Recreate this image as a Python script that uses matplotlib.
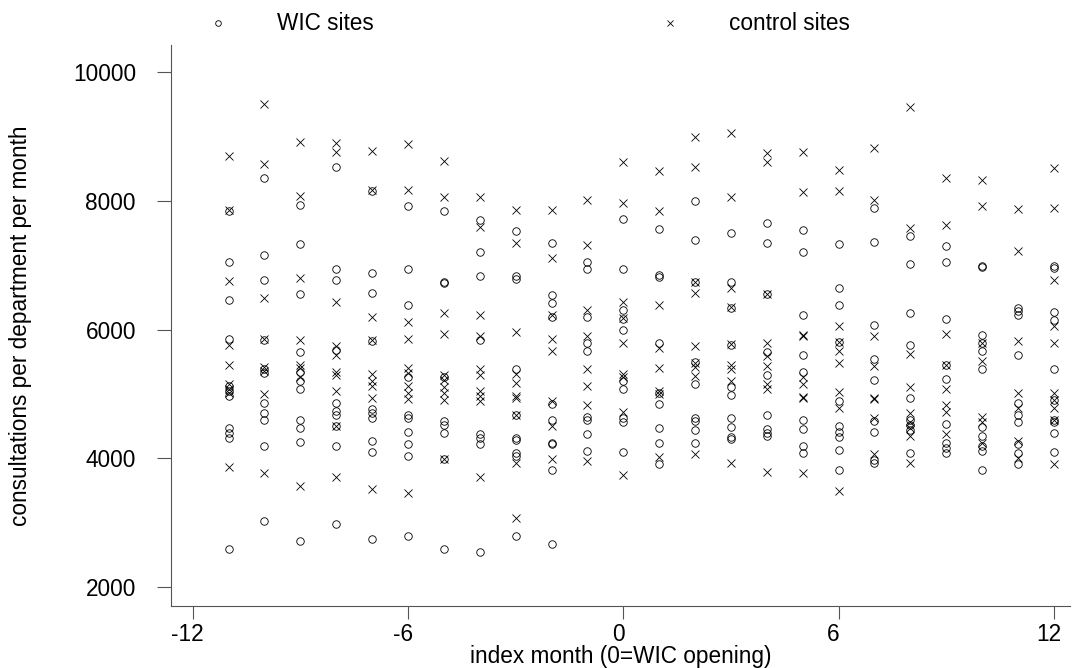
# -*- coding: utf-8 -*-

import matplotlib
matplotlib.use("Agg")
import matplotlib.pyplot as plt
import matplotlib.transforms as mtransforms

# index months (0 = WIC opening)
months = list(range(-11, 13))

# consultations per department per month, WIC sites (circles), one list per month
wic_vals = [
    [7840, 7054, 6465, 5850, 5120, 5040, 4970, 4470, 4390, 4310, 2583],
    [8355, 7161, 6770, 5840, 5390, 5330, 4859, 4698, 4591, 4190, 3028],
    [7927, 7322, 6545, 5651, 5340, 5200, 5070, 4602, 4468, 4254, 2717],
    [8526, 6947, 6770, 5680, 4859, 4736, 4671, 4495, 4190, 2985],
    [8150, 6877, 6572, 5820, 4768, 4698, 4618, 4270, 4099, 2744],
    [7911, 6947, 6385, 5260, 4671, 4618, 4414, 4216, 4029, 2787],
    [7841, 6733, 6720, 5260, 4580, 4520, 4400, 3986, 2594],
    [7696, 7198, 6824, 5839, 4377, 4308, 4227, 2540],
    [7525, 6824, 6792, 5394, 4671, 4308, 4280, 4083, 4029, 2798],
    [7338, 6529, 6411, 6200, 4850, 4602, 4243, 4220, 3825, 2674],
    [7054, 6947, 6197, 5796, 5662, 4645, 4591, 4377, 4109],
    [7723, 6947, 6305, 6160, 5994, 5207, 5073, 4618, 4564, 4093],
    [7563, 6840, 6813, 5785, 5010, 4843, 4468, 4232, 3911],
    [8002, 7386, 6733, 5501, 5153, 4629, 4575, 4441, 4232],
    [7498, 6743, 6330, 5760, 5110, 4976, 4629, 4484, 4324, 4297],
    [7654, 7338, 6545, 5646, 5287, 4671, 4457, 4393, 4350],
    [7552, 7198, 6224, 5598, 5341, 4602, 4457, 4190, 4083],
    [7332, 6652, 6374, 5806, 4886, 4495, 4414, 4334, 4136, 3825],
    [7895, 7364, 6074, 5539, 5223, 4575, 4404, 3975, 3922],
    [7455, 7016, 6262, 5753, 4939, 4600, 4510, 4440, 4083],
    [7295, 7054, 6170, 5448, 5234, 4538, 4243, 4163, 4083],
    [6990, 6970, 5919, 5785, 5662, 5384, 4484, 4350, 4190, 4110, 3815],
    [6330, 6280, 6230, 5608, 4859, 4671, 4564, 4216, 4083, 3911],
    [6990, 6960, 6278, 6144, 5384, 4912, 4591, 4560, 4393, 4093],
]

# control sites (crosses)
ctrl_vals = [
    [8698, 7850, 6759, 5753, 5448, 5150, 5080, 5010, 3868],
    [9501, 8569, 6492, 5850, 5420, 5350, 5003, 3772],
    [8912, 8071, 6802, 5839, 5450, 5400, 5260, 3574],
    [8901, 8751, 6422, 5740, 5610, 5341, 5290, 5046, 4495, 3708],
    [8767, 8160, 6197, 5840, 5314, 5207, 5127, 4939, 3520],
    [8885, 8162, 6117, 5860, 5400, 5330, 5130, 5020, 4920, 3467],
    [8623, 8055, 6262, 5930, 5290, 5210, 5100, 5009, 4912, 3986],
    [8060, 7589, 6224, 5903, 5394, 5287, 5046, 4966, 4886, 3708],
    [7852, 7348, 5957, 5314, 5164, 4966, 4940, 4671, 3922, 3065],
    [7857, 7107, 6220, 5860, 5662, 4886, 4500, 3986],
    [8018, 7311, 6305, 5903, 5384, 5127, 4832, 3959],
    [8607, 7964, 6422, 6180, 5785, 5303, 5260, 4725, 3734],
    [8462, 7846, 6374, 5715, 5405, 5046, 5000, 4018],
    [8997, 8526, 6740, 6572, 5742, 5475, 5421, 5271, 4066],
    [9051, 8055, 6652, 6350, 5780, 5448, 5394, 5207, 3922],
    [8740, 8596, 6545, 5785, 5592, 5432, 5153, 5073, 3788],
    [8757, 8141, 5913, 5900, 5260, 5153, 4950, 4940, 3772],
    [8473, 8152, 6053, 5800, 5662, 5475, 5030, 4779, 3494],
    [8821, 8018, 5903, 5432, 4929, 4918, 4618, 4072],
    [9463, 7573, 5619, 5100, 4700, 4560, 4470, 4350, 3922],
    [8355, 7627, 5930, 5448, 5073, 4832, 4725, 4377],
    [8323, 7921, 5790, 5517, 4645, 4565, 4243],
    [7873, 7215, 5822, 5020, 4779, 4270, 4002],
    [8516, 7884, 6776, 6053, 5785, 5020, 4912, 4779, 4591, 3911],
]

x_ticks = [-12, -6, 0, 6, 12]
y_ticks = [2000, 4000, 6000, 8000, 10000]


def flatten(vals):
    xs = []
    ys = []
    for m, col in zip(months, vals):
        for v in col:
            xs.append(m)
            ys.append(v)
    return xs, ys


def main():
    plt.rcParams['font.family'] = ['Liberation Sans', 'DejaVu Sans']
    fs = 16.3
    axis_col = '#555555'

    fig = plt.figure(figsize=(10.73, 6.68), dpi=100)
    ax = fig.add_axes([0.1591, 0.0928, 0.8381, 0.8398])

    wx, wy = flatten(wic_vals)
    cx, cy = flatten(ctrl_vals)
    ax.plot(wx, wy, linestyle='none', marker='o', markersize=5.4,
            markerfacecolor='none', markeredgecolor='black',
            markeredgewidth=0.6, label='WIC sites')
    ax.plot(cx, cy, linestyle='none', marker='x', markersize=5.6,
            color='black', markeredgewidth=0.6, label='control sites')

    ax.set_xlim(-12.613, 12.45)
    ax.set_ylim(1705, 10419)
    ax.set_xticks(x_ticks)
    ax.set_xticklabels([str(t) for t in x_ticks])
    ax.set_yticks(y_ticks)
    ax.set_yticklabels([str(t) for t in y_ticks])

    for s in ['top', 'right']:
        ax.spines[s].set_visible(False)
    for s in ['left', 'bottom']:
        ax.spines[s].set_color(axis_col)
        ax.spines[s].set_linewidth(0.8)
    ax.tick_params(axis='both', direction='out', width=0.8,
                   color=axis_col, labelsize=fs, labelcolor='black')
    ax.tick_params(axis='x', length=9, pad=3.5)
    ax.tick_params(axis='y', length=10, pad=15)

    # stata places x tick labels a few pixels left of the tick
    shift = mtransforms.ScaledTranslation(-5 / 100.0, 0, fig.dpi_scale_trans)
    for lab in ax.get_xticklabels():
        lab.set_transform(lab.get_transform() + shift)

    fig.text(0.5784, 1 - 656 / 668.0, 'index month (0=WIC opening)',
             ha='center', va='center', fontsize=fs)
    fig.text(21 / 1073.0, 1 - 326 / 668.0,
             'consultations per department per month',
             ha='center', va='center', rotation=90, fontsize=fs)

    fig.legend(loc='center left', bbox_to_anchor=(206.5 / 1073.0, 1 - 24 / 668.0),
               ncol=2, frameon=False, fontsize=fs, markerscale=0.75,
               handlelength=1.0, handletextpad=2.1, columnspacing=12.6,
               borderpad=0, borderaxespad=0)

    fig.savefig('out.png', dpi=100)


if __name__ == '__main__':
    main()
